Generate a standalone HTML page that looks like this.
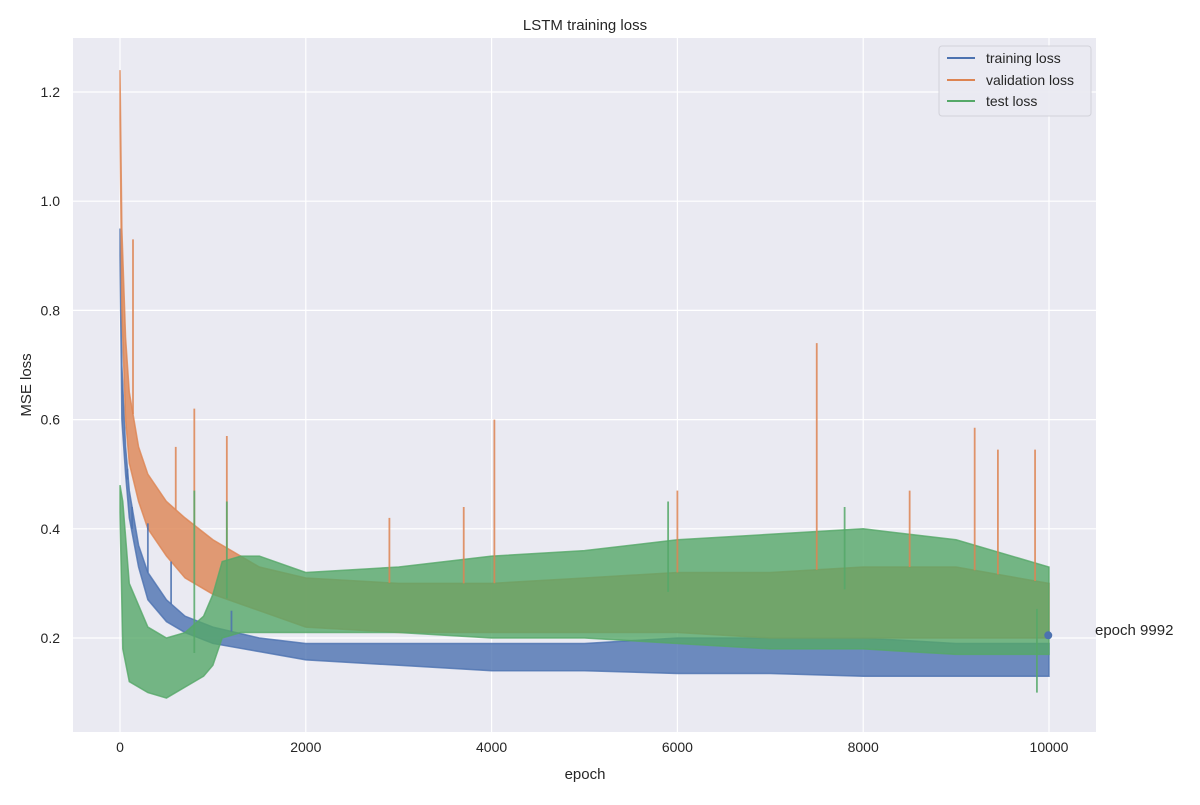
<!DOCTYPE html>
<html><head><meta charset="utf-8">
<style>
body{margin:0;background:#fff;font-family:"Liberation Sans","DejaVu Sans",sans-serif;}
svg text{font-family:"Liberation Sans","DejaVu Sans",sans-serif;fill:#262626;}
</style></head>
<body>
<svg id="chart" width="1200" height="800" viewBox="0 0 1200 800">
<rect x="73" y="38" width="1023" height="694" fill="#eaeaf2"/>
<g id="grid"></g>
<g id="series"></g>
<g id="ticks"></g>
<text x="585" y="30" font-size="15" text-anchor="middle">LSTM training loss</text>
<text x="585" y="779" font-size="15" text-anchor="middle">epoch</text>
<text x="31" y="385" font-size="15" text-anchor="middle" transform="rotate(-90 31 385)">MSE loss</text>
<text x="1095" y="635" font-size="15">epoch 9992</text>
<g>
<rect x="939" y="46" width="152" height="70" rx="3" fill="#eaeaf2" stroke="#d0d0d8" opacity="0.9"/>
<line x1="947" y1="58" x2="975" y2="58" stroke="#4c72b0" stroke-width="2"/>
<text x="986" y="63" font-size="14">training loss</text>
<line x1="947" y1="80" x2="975" y2="80" stroke="#dd8452" stroke-width="2"/>
<text x="986" y="85" font-size="14">validation loss</text>
<line x1="947" y1="101" x2="975" y2="101" stroke="#55a868" stroke-width="2"/>
<text x="986" y="106" font-size="14">test loss</text>
</g>
</svg>
<script>
const xTicks=[0,2000,4000,6000,8000,10000];
const yTicks=[0.2,0.4,0.6,0.8,1.0,1.2];
const trainEpochs=[0,20,60,100,200,300,500,700,1000,1500,2000,3000,4000,5000,6000,7000,8000,9000,10000];
const trainLow=[0.9,0.6,0.5,0.42,0.33,0.27,0.23,0.21,0.19,0.175,0.16,0.15,0.14,0.14,0.135,0.135,0.13,0.13,0.13];
const trainHigh=[0.95,0.7,0.55,0.47,0.37,0.32,0.27,0.24,0.22,0.2,0.19,0.19,0.19,0.19,0.2,0.2,0.2,0.19,0.19];
const valEpochs=[0,20,60,100,200,300,500,700,1000,1500,2000,3000,4000,5000,6000,7000,8000,9000,10000];
const valLow=[1.15,0.8,0.6,0.52,0.45,0.4,0.35,0.31,0.28,0.25,0.22,0.21,0.21,0.21,0.21,0.2,0.2,0.2,0.2];
const valHigh=[1.24,0.95,0.75,0.65,0.55,0.5,0.45,0.42,0.38,0.33,0.31,0.3,0.3,0.31,0.32,0.32,0.33,0.33,0.3];
const testEpochs=[0,30,100,300,500,700,900,1000,1100,1300,1500,2000,3000,4000,5000,6000,7000,8000,9000,10000];
const testLow=[0.43,0.18,0.12,0.1,0.09,0.11,0.13,0.15,0.2,0.21,0.21,0.21,0.21,0.2,0.2,0.19,0.18,0.18,0.17,0.17];
const testHigh=[0.48,0.45,0.3,0.22,0.2,0.21,0.24,0.28,0.34,0.35,0.35,0.32,0.33,0.35,0.36,0.38,0.39,0.4,0.38,0.33];
const trainSpikeEpochs=[80,130,300,550,1200];
const trainSpikeValues=[0.49,0.4,0.41,0.34,0.25];
const valSpikeEpochs=[140,600,800,1150,2900,3700,4030,6000,7500,8500,9200,9450,9850];
const valSpikeValues=[0.93,0.55,0.62,0.57,0.42,0.44,0.6,0.47,0.74,0.47,0.585,0.545,0.545];
const testSpikeEpochs=[800,1150,5900,7800,9870];
const testSpikeValues=[0.47,0.45,0.45,0.44,0.1];
const endEpoch=[9992];const endValue=[0.205];

const X0=120,X1=1049,Y0=638,Y1=92;
const sx=e=>X0+(e-0)*(X1-X0)/10000;
const sy=v=>Y0-(v-0.2)*(Y0-Y1)/1.0;
const NS='http://www.w3.org/2000/svg';
function mk(tag,attrs,parent){const el=document.createElementNS(NS,tag);for(const k in attrs)el.setAttribute(k,attrs[k]);parent.appendChild(el);return el;}
const grid=document.getElementById('grid'),ticks=document.getElementById('ticks'),ser=document.getElementById('series');
xTicks.forEach(t=>{const l=mk('line',{x1:sx(t),x2:sx(t),y1:38,y2:732,stroke:'#fff','stroke-width':1.2},grid);

const tx=mk('text',{x:sx(t),y:752,'font-size':14,'text-anchor':'middle'},ticks);tx.textContent=t;
});
yTicks.forEach(t=>{const l=mk('line',{x1:73,x2:1096,y1:sy(t),y2:sy(t),stroke:'#fff','stroke-width':1.2},grid);

const tx=mk('text',{x:60,y:sy(t)+5,'font-size':14,'text-anchor':'end'},ticks);tx.textContent=t.toFixed(1);
});
function band(ep,lo,hi,color,name){
 let pts=ep.map((e,i)=>sx(e)+','+sy(hi[i]));
 for(let i=ep.length-1;i>=0;i--)pts.push(sx(ep[i])+','+sy(lo[i]));
 const p=mk('polygon',{points:pts.join(' '),fill:color,'fill-opacity':0.8,stroke:color,'stroke-width':1.5,'stroke-opacity':0.8},ser);
 }
function spikes(ep,vals,base,color,name){
 ep.forEach((e,i)=>{let b=0;for(let j=0;j<base.length-1;j++){if(e>=base[j][0]&&e<=base[j+1][0]){const f=(e-base[j][0])/(base[j+1][0]-base[j][0]);b=base[j][1]+f*(base[j+1][1]-base[j][1]);}}
 const l=mk('line',{x1:sx(e),x2:sx(e),y1:sy(b),y2:sy(vals[i]),stroke:color,'stroke-width':1.8,'stroke-opacity':0.85},ser);
 });}
band(trainEpochs,trainLow,trainHigh,'#4c72b0','training-loss-band');
band(valEpochs,valLow,valHigh,'#dd8452','validation-loss-band');
band(testEpochs,testLow,testHigh,'#55a868','test-loss-band');
spikes(trainSpikeEpochs,trainSpikeValues,trainEpochs.map((e,i)=>[e,trainHigh[i]]),'#4c72b0','training-spike');
spikes(valSpikeEpochs,valSpikeValues,valEpochs.map((e,i)=>[e,valHigh[i]]),'#dd8452','validation-spike');
spikes(testSpikeEpochs,testSpikeValues,testEpochs.map((e,i)=>[e,(testHigh[i]+testLow[i])/2]),'#55a868','test-spike');
const dot=mk('circle',{cx:sx(endEpoch[0]),cy:sy(endValue[0]),r:4,fill:'#4c72b0'},ser);

</script>
</body></html>
